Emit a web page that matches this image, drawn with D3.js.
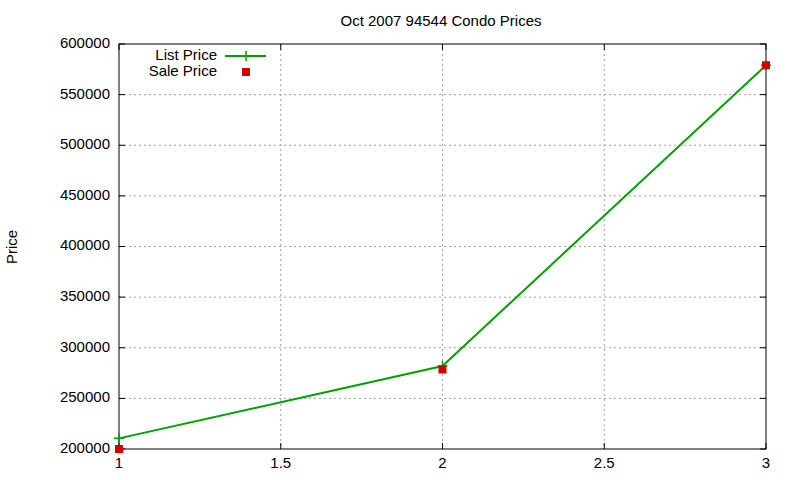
<!DOCTYPE html>
<html><head><meta charset="utf-8">
<script src="https://cdn.jsdelivr.net/npm/d3@7"></script>
<style>body{margin:0;background:#fff}text{font-family:"Liberation Sans",Arial,sans-serif;font-size:15px}</style>
</head><body><svg id="chart"></svg>
<script>
var xValues = [1, 2, 3];
var listPrice = [210500, 282000, 579000];
var salePrice = [200000, 278500, 579000];
var xTicks = [1, 1.5, 2, 2.5, 3];
var yTicks = [200000, 250000, 300000, 350000, 400000, 450000, 500000, 550000, 600000];

var width = 800, height = 480;
var svg = d3.select("#chart").attr("width", width).attr("height", height);
var pL = 119, pR = 766, pT = 44, pB = 449;

var x = d3.scaleLinear().domain([1, 3]).range([pL, pR]);
var y = d3.scaleLinear().domain([200000, 600000]).range([pB, pT]);

// grid
var grid = svg.append("g").attr("stroke", "#a0a0a0").attr("stroke-dasharray", "2,3").attr("stroke-width", 1);
xTicks.slice(1, -1).forEach(function(t){
  grid.append("line").attr("x1", x(t)).attr("x2", x(t)).attr("y1", pT).attr("y2", pB);
});
yTicks.slice(1, -1).forEach(function(t){
  grid.append("line").attr("x1", pL).attr("x2", pR).attr("y1", y(t)).attr("y2", y(t));
});

// border
svg.append("rect").attr("x", pL).attr("y", pT).attr("width", pR - pL).attr("height", pB - pT)
  .attr("fill", "none").attr("stroke", "#000");

// ticks
var tk = svg.append("g").attr("stroke", "#000");
xTicks.forEach(function(t){
  tk.append("line").attr("x1", x(t)).attr("x2", x(t)).attr("y1", pB).attr("y2", pB - 6);
  tk.append("line").attr("x1", x(t)).attr("x2", x(t)).attr("y1", pT).attr("y2", pT + 6);
  svg.append("text").attr("x", x(t)).attr("y", pB + 19).attr("text-anchor", "middle").text(t);
});
yTicks.forEach(function(t){
  tk.append("line").attr("x1", pL).attr("x2", pL + 6).attr("y1", y(t)).attr("y2", y(t));
  tk.append("line").attr("x1", pR).attr("x2", pR - 6).attr("y1", y(t)).attr("y2", y(t));
  svg.append("text").attr("x", pL - 9).attr("y", y(t)).attr("text-anchor", "end")
    .attr("dominant-baseline", "middle").text(t);
});

// title / label
svg.append("text").attr("x", 441).attr("y", 26).attr("text-anchor", "middle").text("Oct 2007 94544 Condo Prices");
svg.append("text").attr("transform", "translate(17,247) rotate(-90)").attr("text-anchor", "middle").text("Price");

// list price line
var line = d3.line().x(function(d, i){ return x(xValues[i]); }).y(function(d){ return y(d); });
svg.append("path").attr("d", line(listPrice)).attr("fill", "none").attr("stroke", "#00a000").attr("stroke-width", 2);
listPrice.forEach(function(d, i){
  var cx = x(xValues[i]), cy = y(d);
  svg.append("path").attr("d", "M" + (cx - 5) + "," + cy + "h10M" + cx + "," + (cy - 5) + "v10")
    .attr("stroke", "#00a000").attr("stroke-width", 1.5);
});

// sale price points
svg.append("g").selectAll("rect").data(salePrice).enter().append("rect")
  .attr("x", function(d, i){ return x(xValues[i]) - 4; })
  .attr("y", function(d){ return y(d) - 4; })
  .attr("width", 8).attr("height", 8).attr("fill", "#d00000");

// legend
svg.append("text").attr("x", 217).attr("y", 56).attr("text-anchor", "end").attr("dominant-baseline", "middle").text("List Price");
svg.append("text").attr("x", 217).attr("y", 72).attr("text-anchor", "end").attr("dominant-baseline", "middle").text("Sale Price");
svg.append("line").attr("x1", 225).attr("x2", 266).attr("y1", 56).attr("y2", 56).attr("stroke", "#00a000").attr("stroke-width", 2);
svg.append("path").attr("d", "M241,56h10M246,51v10").attr("stroke", "#00a000").attr("stroke-width", 1.5);
svg.append("rect").attr("x", 242).attr("y", 68).attr("width", 8).attr("height", 8).attr("fill", "#d00000");
</script></body></html>
